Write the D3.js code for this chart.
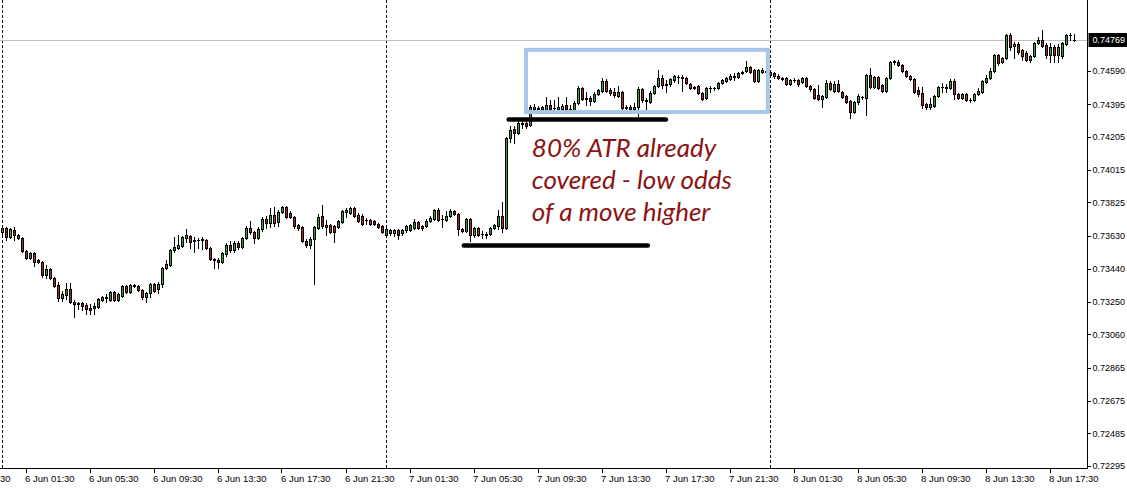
<!DOCTYPE html>
<html>
<head>
<meta charset="utf-8">
<script src="https://cdn.jsdelivr.net/npm/d3@7"></script>
<style>
  html, body { margin: 0; padding: 0; background: #ffffff; }
  svg { display: block; }
  .axis-text { font-family: "Liberation Sans", Arial, sans-serif; fill: #000; }
</style>
</head>
<body>
<svg id="chart" width="1127" height="494"></svg>
<script>
// ---------- DATA (AUDUSD-like M15 candles, 6 Jun 00:00 -> 8 Jun 19:00) ----------
const firstBar = "2017-06-06T00:00Z";
const barMinutes = 15;

const open = [
0.73653,0.73676,0.73624,0.73665,0.73636,0.73618,0.73543,0.73502,0.73531,0.73490,
0.73479,0.73403,0.73438,0.73386,0.73345,0.73270,0.73287,0.73322,0.73247,0.73241,
0.73241,0.73229,0.73212,0.73212,0.73217,0.73258,0.73270,0.73258,0.73305,0.73258,
0.73281,0.73339,0.73305,0.73345,0.73339,0.73316,0.73276,0.73299,0.73351,0.73322,
0.73351,0.73444,0.73461,0.73548,0.73560,0.73572,0.73618,0.73630,0.73601,0.73607,
0.73607,0.73607,0.73560,0.73496,0.73490,0.73479,0.73525,0.73577,0.73548,0.73589,
0.73566,0.73618,0.73676,0.73653,0.73618,0.73671,0.73729,0.73705,0.73752,0.73711,
0.73769,0.73798,0.73763,0.73740,0.73694,0.73682,0.73601,0.73577,0.73613,0.73676,
0.73746,0.73694,0.73694,0.73688,0.73682,0.73711,0.73769,0.73763,0.73793,0.73752,
0.73746,0.73723,0.73723,0.73717,0.73700,0.73688,0.73636,0.73665,0.73647,0.73665,
0.73647,0.73665,0.73665,0.73676,0.73711,0.73688,0.73688,0.73717,0.73729,0.73781,
0.73729,0.73723,0.73746,0.73775,0.73758,0.73671,0.73659,0.73729,0.73636,0.73676,
0.73642,0.73642,0.73642,0.73676,0.73688,0.73746,0.73676,0.74199,0.74252,0.74228,
0.74281,0.74286,0.74275,0.74368,0.74374,0.74368,0.74362,0.74391,0.74374,0.74368,
0.74368,0.74391,0.74368,0.74362,0.74403,0.74490,0.74426,0.74432,0.74414,0.74455,
0.74472,0.74530,0.74478,0.74466,0.74443,0.74466,0.74374,0.74379,0.74368,0.74379,
0.74484,0.74420,0.74408,0.74461,0.74501,0.74548,0.74507,0.74513,0.74536,0.74554,
0.74554,0.74548,0.74513,0.74490,0.74501,0.74461,0.74432,0.74490,0.74490,0.74490,
0.74519,0.74530,0.74542,0.74554,0.74554,0.74577,0.74589,0.74612,0.74594,0.74530,
0.74583,0.74589,0.74583,0.74577,0.74559,0.74548,0.74548,0.74513,0.74536,0.74536,
0.74525,0.74548,0.74501,0.74484,0.74449,0.74426,0.74437,0.74519,0.74472,0.74513,
0.74466,0.74443,0.74414,0.74350,0.74408,0.74437,0.74432,0.74565,0.74496,0.74554,
0.74507,0.74472,0.74548,0.74647,0.74641,0.74623,0.74589,0.74559,0.74542,0.74478,
0.74461,0.74397,0.74379,0.74385,0.74443,0.74496,0.74496,0.74490,0.74530,0.74455,
0.74432,0.74455,0.74420,0.74420,0.74455,0.74466,0.74525,0.74548,0.74589,0.74681,
0.74641,0.74664,0.74798,0.74734,0.74745,0.74710,0.74693,0.74652,0.74676,0.74751,
0.74769,0.74740,0.74681,0.74728,0.74681,0.74676,0.74745,0.74798,0.74766
];

const high = [
0.73688,0.73682,0.73676,0.73682,0.73642,0.73624,0.73548,0.73537,0.73537,0.73496,
0.73485,0.73461,0.73444,0.73392,0.73363,0.73310,0.73357,0.73357,0.73258,0.73247,
0.73247,0.73241,0.73235,0.73241,0.73270,0.73281,0.73293,0.73310,0.73310,0.73299,
0.73345,0.73345,0.73351,0.73351,0.73345,0.73322,0.73305,0.73357,0.73357,0.73363,
0.73450,0.73490,0.73554,0.73624,0.73636,0.73630,0.73671,0.73636,0.73624,0.73618,
0.73624,0.73613,0.73566,0.73502,0.73502,0.73537,0.73589,0.73601,0.73601,0.73601,
0.73624,0.73688,0.73717,0.73659,0.73682,0.73740,0.73746,0.73793,0.73798,0.73781,
0.73804,0.73804,0.73775,0.73746,0.73700,0.73688,0.73613,0.73624,0.73688,0.73758,
0.73810,0.73723,0.73700,0.73694,0.73723,0.73781,0.73793,0.73798,0.73798,0.73763,
0.73758,0.73735,0.73729,0.73723,0.73705,0.73694,0.73676,0.73671,0.73671,0.73671,
0.73671,0.73694,0.73700,0.73729,0.73717,0.73694,0.73729,0.73746,0.73787,0.73793,
0.73752,0.73775,0.73787,0.73781,0.73763,0.73676,0.73735,0.73735,0.73682,0.73682,
0.73659,0.73653,0.73682,0.73700,0.73781,0.73827,0.74205,0.74269,0.74269,0.74298,
0.74298,0.74298,0.74391,0.74397,0.74385,0.74385,0.74437,0.74420,0.74420,0.74437,
0.74397,0.74437,0.74391,0.74414,0.74501,0.74496,0.74466,0.74443,0.74466,0.74484,
0.74548,0.74542,0.74490,0.74490,0.74501,0.74472,0.74391,0.74391,0.74403,0.74496,
0.74490,0.74432,0.74472,0.74507,0.74594,0.74565,0.74536,0.74548,0.74565,0.74565,
0.74565,0.74554,0.74519,0.74501,0.74507,0.74466,0.74496,0.74501,0.74496,0.74525,
0.74542,0.74554,0.74571,0.74577,0.74583,0.74589,0.74647,0.74618,0.74600,0.74600,
0.74606,0.74594,0.74589,0.74583,0.74571,0.74554,0.74554,0.74542,0.74548,0.74542,
0.74554,0.74554,0.74507,0.74490,0.74507,0.74449,0.74536,0.74530,0.74530,0.74536,
0.74472,0.74449,0.74420,0.74414,0.74455,0.74443,0.74571,0.74606,0.74559,0.74559,
0.74513,0.74554,0.74647,0.74652,0.74652,0.74629,0.74594,0.74565,0.74548,0.74496,
0.74496,0.74403,0.74432,0.74449,0.74501,0.74519,0.74513,0.74542,0.74542,0.74461,
0.74461,0.74461,0.74432,0.74461,0.74490,0.74536,0.74565,0.74606,0.74687,0.74687,
0.74670,0.74803,0.74809,0.74757,0.74757,0.74716,0.74705,0.74681,0.74757,0.74786,
0.74827,0.74751,0.74751,0.74740,0.74745,0.74757,0.74803,0.74809,0.74803
];

const low = [
0.73636,0.73607,0.73618,0.73607,0.73613,0.73537,0.73496,0.73496,0.73456,0.73473,
0.73392,0.73386,0.73380,0.73334,0.73252,0.73252,0.73264,0.73241,0.73159,0.73206,
0.73200,0.73177,0.73177,0.73177,0.73212,0.73252,0.73247,0.73252,0.73252,0.73252,
0.73276,0.73299,0.73299,0.73334,0.73310,0.73264,0.73247,0.73276,0.73305,0.73299,
0.73334,0.73438,0.73456,0.73537,0.73554,0.73566,0.73595,0.73560,0.73537,0.73560,
0.73554,0.73554,0.73490,0.73444,0.73444,0.73473,0.73514,0.73537,0.73537,0.73554,
0.73560,0.73613,0.73642,0.73589,0.73613,0.73659,0.73676,0.73682,0.73688,0.73688,
0.73763,0.73735,0.73735,0.73676,0.73665,0.73595,0.73566,0.73560,0.73351,0.73671,
0.73676,0.73636,0.73647,0.73595,0.73676,0.73705,0.73740,0.73758,0.73740,0.73711,
0.73694,0.73700,0.73694,0.73694,0.73676,0.73647,0.73624,0.73636,0.73630,0.73613,
0.73636,0.73653,0.73659,0.73671,0.73671,0.73665,0.73682,0.73711,0.73723,0.73717,
0.73682,0.73717,0.73740,0.73752,0.73636,0.73653,0.73653,0.73601,0.73624,0.73630,
0.73618,0.73618,0.73636,0.73671,0.73671,0.73653,0.73671,0.74176,0.74170,0.74223,
0.74257,0.74257,0.74269,0.74362,0.74362,0.74362,0.74356,0.74356,0.74362,0.74362,
0.74362,0.74362,0.74356,0.74356,0.74397,0.74420,0.74391,0.74391,0.74408,0.74449,
0.74466,0.74466,0.74449,0.74437,0.74437,0.74368,0.74362,0.74356,0.74362,0.74321,
0.74408,0.74362,0.74403,0.74455,0.74496,0.74490,0.74466,0.74501,0.74525,0.74519,
0.74472,0.74513,0.74484,0.74484,0.74455,0.74420,0.74426,0.74466,0.74478,0.74484,
0.74513,0.74525,0.74536,0.74536,0.74548,0.74571,0.74583,0.74577,0.74525,0.74525,
0.74577,0.74571,0.74559,0.74548,0.74542,0.74536,0.74507,0.74507,0.74525,0.74501,
0.74519,0.74496,0.74472,0.74426,0.74420,0.74379,0.74432,0.74478,0.74466,0.74466,
0.74432,0.74403,0.74315,0.74345,0.74397,0.74426,0.74333,0.74490,0.74490,0.74484,
0.74466,0.74466,0.74542,0.74629,0.74618,0.74583,0.74554,0.74536,0.74461,0.74443,
0.74374,0.74368,0.74368,0.74379,0.74437,0.74466,0.74466,0.74484,0.74426,0.74426,
0.74426,0.74414,0.74408,0.74414,0.74449,0.74461,0.74519,0.74542,0.74583,0.74623,
0.74635,0.74658,0.74710,0.74664,0.74687,0.74652,0.74647,0.74641,0.74670,0.74745,
0.74728,0.74664,0.74641,0.74641,0.74641,0.74664,0.74740,0.74769,0.74763
];

const close = [
0.73676,0.73624,0.73671,0.73636,0.73618,0.73543,0.73502,0.73531,0.73479,0.73479,
0.73403,0.73438,0.73386,0.73339,0.73270,0.73293,0.73322,0.73247,0.73235,0.73235,
0.73223,0.73206,0.73200,0.73223,0.73264,0.73276,0.73276,0.73305,0.73258,0.73293,
0.73339,0.73305,0.73345,0.73339,0.73316,0.73276,0.73299,0.73351,0.73310,0.73351,
0.73444,0.73467,0.73548,0.73566,0.73577,0.73624,0.73636,0.73595,0.73607,0.73607,
0.73613,0.73560,0.73496,0.73490,0.73479,0.73531,0.73577,0.73548,0.73589,0.73566,
0.73618,0.73676,0.73653,0.73618,0.73671,0.73729,0.73705,0.73752,0.73705,0.73769,
0.73798,0.73740,0.73740,0.73688,0.73676,0.73601,0.73577,0.73613,0.73682,0.73740,
0.73688,0.73682,0.73653,0.73653,0.73717,0.73775,0.73781,0.73793,0.73746,0.73717,
0.73700,0.73723,0.73700,0.73700,0.73682,0.73653,0.73671,0.73647,0.73665,0.73636,
0.73665,0.73688,0.73694,0.73711,0.73676,0.73676,0.73717,0.73735,0.73781,0.73723,
0.73729,0.73746,0.73775,0.73758,0.73671,0.73659,0.73729,0.73636,0.73676,0.73636,
0.73642,0.73636,0.73676,0.73694,0.73746,0.73676,0.74199,0.74246,0.74228,0.74286,
0.74286,0.74269,0.74379,0.74379,0.74368,0.74379,0.74391,0.74368,0.74374,0.74379,
0.74385,0.74368,0.74368,0.74403,0.74490,0.74426,0.74432,0.74414,0.74455,0.74478,
0.74530,0.74472,0.74461,0.74449,0.74466,0.74374,0.74379,0.74368,0.74379,0.74484,
0.74420,0.74414,0.74461,0.74501,0.74548,0.74507,0.74513,0.74542,0.74559,0.74554,
0.74548,0.74519,0.74490,0.74496,0.74461,0.74426,0.74490,0.74490,0.74490,0.74519,
0.74536,0.74548,0.74559,0.74559,0.74577,0.74583,0.74612,0.74583,0.74530,0.74594,
0.74594,0.74583,0.74565,0.74559,0.74548,0.74542,0.74513,0.74536,0.74536,0.74513,
0.74548,0.74501,0.74484,0.74432,0.74426,0.74443,0.74519,0.74484,0.74513,0.74472,
0.74437,0.74408,0.74350,0.74408,0.74443,0.74437,0.74565,0.74496,0.74554,0.74490,
0.74472,0.74548,0.74641,0.74641,0.74623,0.74589,0.74559,0.74542,0.74466,0.74455,
0.74391,0.74379,0.74397,0.74443,0.74496,0.74496,0.74490,0.74530,0.74455,0.74432,
0.74455,0.74420,0.74420,0.74455,0.74472,0.74530,0.74548,0.74589,0.74681,0.74635,
0.74664,0.74798,0.74728,0.74745,0.74699,0.74676,0.74652,0.74676,0.74751,0.74769,
0.74734,0.74681,0.74728,0.74681,0.74728,0.74751,0.74798,0.74798,0.74769
];

const priceTicks = [0.74590, 0.74395, 0.74205, 0.74015, 0.73825, 0.73630, 0.73440,
                    0.73250, 0.73060, 0.72865, 0.72675, 0.72485, 0.72295];
const timeLabels = ["5 Jun 21:30", "6 Jun 01:30", "6 Jun 05:30", "6 Jun 09:30", "6 Jun 13:30",
                    "6 Jun 17:30", "6 Jun 21:30", "7 Jun 01:30", "7 Jun 05:30", "7 Jun 09:30",
                    "7 Jun 13:30", "7 Jun 17:30", "7 Jun 21:30", "8 Jun 01:30", "8 Jun 05:30",
                    "8 Jun 09:30", "8 Jun 13:30", "8 Jun 17:30"];
const daySeparators = ["6 Jun 00:00", "7 Jun 00:00", "8 Jun 00:00"];
const lastPrice = 0.74769;

// annotations (time / price anchored)
const boxRange = { from: "7 Jun 08:43", to: "7 Jun 23:50", top: 0.74711, bottom: 0.74350 };
const atrTopLine = { from: "7 Jun 07:38", to: "7 Jun 17:28", price: 0.74307 };
const atrBottomLine = { from: "7 Jun 04:50", to: "7 Jun 16:20", price: 0.73575 };
const noteText = ["80% ATR already", "covered - low odds", "of a move higher"];
const noteAnchor = { time: "7 Jun 09:05", price: 0.74089 };

// ---------- SCALES ----------
const W = 1127, H = 494;
const plotRight = 1087.5, plotBottom = 468.5;
const parseLabel = d3.utcParse("%Y %d %b %H:%M");
const T = s => parseLabel("2017 " + s);

const t0 = new Date(firstBar);
const n = close.length;
const times = d3.range(n).map(i => d3.utcMinute.offset(t0, i * barMinutes));

const x = d3.scaleUtc().domain([times[0], times[n - 1]]).range([2.5, 2.5 + 4 * (n - 1)]);
const y = d3.scaleLinear().domain([0.72295, 0.74590]).range([466, 70.7]);

const svg = d3.select("#chart");

svg.append("defs").append("clipPath").attr("id", "plotClip")
  .append("rect").attr("x", 0).attr("y", 0).attr("width", plotRight).attr("height", plotBottom);

const plot = svg.append("g").attr("clip-path", "url(#plotClip)");

// day separators
plot.selectAll("line.sep").data(daySeparators).join("line")
  .attr("class", "sep")
  .attr("x1", d => x(T(d))).attr("x2", d => x(T(d)))
  .attr("y1", 0).attr("y2", plotBottom)
  .attr("stroke", "#000").attr("stroke-width", 1)
  .attr("stroke-dasharray", "3,2")
  .attr("shape-rendering", "crispEdges");

// last price line
plot.append("line")
  .attr("x1", 0).attr("x2", plotRight)
  .attr("y1", Math.round(y(lastPrice)) + 0.5).attr("y2", Math.round(y(lastPrice)) + 0.5)
  .attr("stroke", "#c0c0c0").attr("stroke-width", 1)
  .attr("shape-rendering", "crispEdges");

// candles
const bars = d3.range(n).map(i => ({ t: times[i], o: open[i], h: high[i], l: low[i], c: close[i] }));
const bullCol = "#3d9c3d", bearCol = "#a22a2a";

const cg = plot.append("g").attr("shape-rendering", "crispEdges");
const candle = cg.selectAll("g.c").data(bars).join("g").attr("class", "c");

candle.append("rect")
  .attr("x", d => x(d.t) - 0.5)
  .attr("width", 1)
  .attr("y", d => Math.round(y(d.h)))
  .attr("height", d => Math.max(1, Math.round(y(d.l)) - Math.round(y(d.h)) + 1))
  .attr("fill", "#000");

candle.each(function(d) {
  const g = d3.select(this);
  const cx = x(d.t);
  const yt = Math.round(y(Math.max(d.o, d.c)));
  const yb = Math.round(y(Math.min(d.o, d.c)));
  if (yb - yt < 1) {
    g.append("rect").attr("x", cx - 1.5).attr("width", 3)
      .attr("y", yt).attr("height", 1).attr("fill", "#000");
  } else {
    g.append("rect")
      .attr("x", cx - 1).attr("width", 2)
      .attr("y", yt + 0.5).attr("height", yb - yt)
      .attr("fill", d.c > d.o ? bullCol : bearCol)
      .attr("stroke", "#000").attr("stroke-width", 1);
  }
});

// annotations
const ann = svg.append("g");
ann.append("rect")
  .attr("x", x(T(boxRange.from))).attr("y", y(boxRange.top))
  .attr("width", x(T(boxRange.to)) - x(T(boxRange.from)))
  .attr("height", y(boxRange.bottom) - y(boxRange.top))
  .attr("fill", "none").attr("stroke", "#a7c7ea").attr("stroke-width", 4);

[atrTopLine, atrBottomLine].forEach(l => {
  ann.append("line")
    .attr("x1", x(T(l.from))).attr("x2", x(T(l.to)))
    .attr("y1", y(l.price)).attr("y2", y(l.price))
    .attr("stroke", "#000").attr("stroke-width", 4.5).attr("stroke-linecap", "round");
});

ann.append("text")
  .attr("x", x(T(noteAnchor.time))).attr("y", y(noteAnchor.price))
  .attr("font-family", "Lato, 'Liberation Sans', sans-serif")
  .attr("font-style", "italic")
  .attr("font-size", 26)
  .attr("fill", "#8b1414")
  .selectAll("tspan").data(noteText).join("tspan")
  .attr("x", x(T(noteAnchor.time)))
  .attr("dy", (d, i) => i === 0 ? 0 : 32)
  .text(d => d);

// axes frame
const axisG = svg.append("g").attr("shape-rendering", "crispEdges");
axisG.append("line").attr("x1", 0).attr("x2", plotRight).attr("y1", plotBottom).attr("y2", plotBottom)
  .attr("stroke", "#000");
axisG.append("line").attr("x1", plotRight).attr("x2", plotRight).attr("y1", 0).attr("y2", plotBottom)
  .attr("stroke", "#000");

// right price axis
const yAxis = d3.axisRight(y).tickValues(priceTicks).tickSize(3).tickPadding(2)
  .tickFormat(d3.format(".5f"));
const yAxisG = svg.append("g").attr("transform", `translate(${plotRight},0)`).call(yAxis);
yAxisG.select(".domain").remove();
yAxisG.selectAll("text").attr("class", "axis-text").attr("font-size", 9)
  .attr("font-family", "'Liberation Sans', Arial, sans-serif");
yAxisG.selectAll("line").attr("shape-rendering", "crispEdges");

// last price label
const lpY = y(lastPrice);
svg.append("rect").attr("x", plotRight + 1).attr("y", Math.round(lpY) - 7)
  .attr("width", W - plotRight).attr("height", 14).attr("fill", "#000");
svg.append("text").attr("x", plotRight + 5).attr("y", lpY).attr("dy", "0.35em")
  .attr("font-family", "'Liberation Sans', Arial, sans-serif").attr("font-size", 9)
  .attr("fill", "#fff").text(d3.format(".5f")(lastPrice));

// bottom time axis
const xAxisG = svg.append("g");
xAxisG.selectAll("line.tk").data(timeLabels).join("line")
  .attr("x1", d => Math.round(x(T(d))) - 0.5).attr("x2", d => Math.round(x(T(d))) - 0.5)
  .attr("y1", plotBottom).attr("y2", plotBottom + 4)
  .attr("stroke", "#000").attr("shape-rendering", "crispEdges");
xAxisG.selectAll("text").data(timeLabels).join("text")
  .attr("x", d => x(T(d)) - 1.5).attr("y", plotBottom + 13.5)
  .attr("font-family", "'Liberation Sans', Arial, sans-serif").attr("font-size", 9.5)
  .attr("fill", "#000")
  .text(d => d);
</script>
</body>
</html>
